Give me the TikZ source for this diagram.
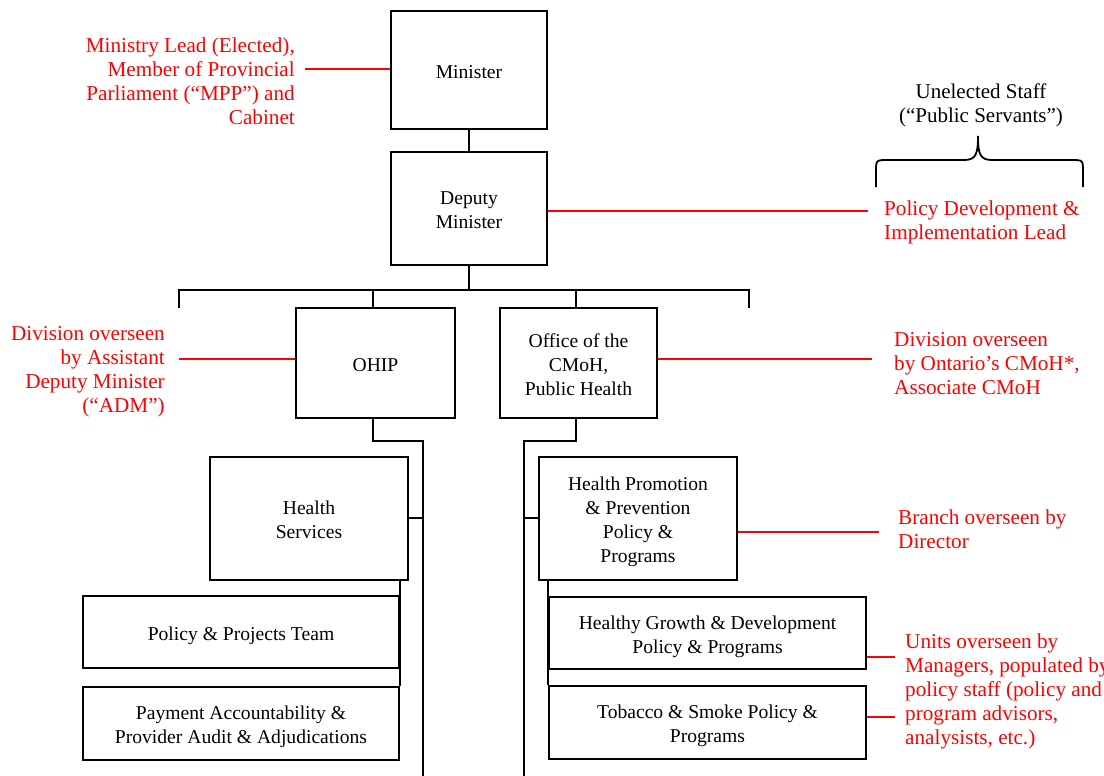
\documentclass[tikz,border=0pt]{standalone}
\usepackage{fontspec}
\setmainfont{Liberation Serif}
\usetikzlibrary{calc}
\newcommand\lft{\rule{0pt}{16pt}}
\begin{document}
\begin{tikzpicture}[x=1pt,y=-1pt,
  box/.style={draw=black,line width=1.8pt,align=center,inner sep=2pt,text depth=0pt,font=\fontsize{19.6}{24}\selectfont},
  conn/.style={draw=black,line width=1.8pt},
  redline/.style={color=red,line width=1.2pt},
  redlbl/.style={text=red,inner sep=0pt,font=\fontsize{21.2}{24}\selectfont},
  blklbl/.style={text=black,inner sep=0pt,font=\fontsize{21}{24}\selectfont},
]
\useasboundingbox (0,0) rectangle (1104,776);
\fill[white] (0,0) rectangle (1104,776);

% boxes
\node[box,minimum width=156pt,minimum height=118pt] (min) at (469,70) {\lft Minister};
\node[box,minimum width=156pt,minimum height=113pt] (dep) at (469,208.5) {\lft Deputy\\Minister};
\node[box,minimum width=159pt,minimum height=110pt] (ohip) at (375.5,363) {\lft OHIP};
\node[box,minimum width=157pt,minimum height=110pt] (cmoh) at (578.5,363) {\lft Office of the\\CMoH,\\Public Health};
\node[box,minimum width=198pt,minimum height=123pt] (hs) at (309,518.5) {\lft Health\\Services};
\node[box,minimum width=198pt,minimum height=123pt] (hpp) at (638,518.5) {\lft Health Promotion\\\& Prevention\\Policy \&\\Programs};
\node[box,minimum width=316pt,minimum height=72pt] (ppt) at (241,632) {\lft Policy \& Projects Team};
\node[box,minimum width=316pt,minimum height=73pt] (pay) at (241,723.5) {\lft Payment Accountability \&\\Provider Audit \& Adjudications};
\node[box,minimum width=317pt,minimum height=72pt] (hgd) at (707.5,633) {\lft Healthy Growth \& Development\\Policy \& Programs};
\node[box,minimum width=317pt,minimum height=73pt] (tob) at (707.5,722.5) {\lft Tobacco \& Smoke Policy \&\\Programs};

% connectors
\draw[conn] (min.south) -- (dep.north);
\coordinate (busL) at (179,290);
\coordinate (busR) at (749,290);
\coordinate (dropL) at (179,308);
\coordinate (dropR) at (749,308);
\draw[conn] (dropL) -- (busL) -- (busR) -- (dropR);
\draw[conn] (dep.south) -- (dep.south |- busL);
\draw[conn] ([xshift=-2.5pt]ohip.north) -- ([xshift=-2.5pt]ohip.north |- busL);
\draw[conn] ([xshift=-2.5pt]cmoh.north) -- ([xshift=-2.5pt]cmoh.north |- busL);

\coordinate (oend) at (423,776);
\draw[conn] ([xshift=-2.5pt]ohip.south) -- ++(0,22) -| (oend);
\draw[conn] ([yshift=0.5pt]hs.east) -- ([yshift=0.5pt]hs.east -| oend);
\draw[conn] (hs.south -| ppt.east) -- (pay.north -| ppt.east);

\coordinate (cend) at (524,776);
\draw[conn] ([xshift=-2.5pt]cmoh.south) -- ++(0,22) -| (cend);
\draw[conn] ([yshift=0.5pt]hpp.west) -- ([yshift=0.5pt]hpp.west -| cend);
\draw[conn] (hpp.south -| hgd.west) -- (tob.north -| hgd.west);

% labels
\node[redlbl,align=right,anchor=north east] (l1) at (295,38) {Ministry Lead (Elected),\\Member of Provincial\\Parliament (“MPP”) and\\Cabinet};
\draw[redline] ([yshift=1pt]min.west) -- ([xshift=10pt,yshift=1pt]min.west -| l1.east);

\node[redlbl,align=right,anchor=north east] (l2) at (165,326) {Division overseen\\by Assistant\\Deputy Minister\\(“ADM”)};
\draw[redline] ([yshift=4pt]ohip.west) -- ([xshift=14pt,yshift=4pt]ohip.west -| l2.east);

\node[redlbl,align=left,anchor=north west] (l3) at (884,201) {Policy Development \&\\Implementation Lead};
\draw[redline] ([yshift=-2.5pt]dep.east) -- ([xshift=-16pt,yshift=-2.5pt]dep.east -| l3.west);

\node[blklbl,align=center,anchor=north] (ul) at (981,84) {Unelected Staff\\(“Public Servants”)};
\draw[line width=1.8pt] (876,187) -- (876,172) .. controls (876,160) .. (888,160) -- (964,160) .. controls (976,160) and (978,154) .. (978,136) .. controls (978,154) and (980,160) .. (992,160) -- (1071,160) .. controls (1083,160) .. (1083,172) -- (1083,187);

\node[redlbl,align=left,anchor=north west] (l4) at (894,332) {Division overseen\\by Ontario’s CMoH*,\\Associate CMoH};
\draw[redline] ([yshift=4pt]cmoh.east) -- ([xshift=-22pt,yshift=4pt]cmoh.east -| l4.west);

\node[redlbl,align=left,anchor=north west] (l5) at (898,510) {Branch overseen by\\Director};
\draw[redline] ([yshift=-13.5pt]hpp.east) -- ([xshift=-19pt,yshift=-13.5pt]hpp.east -| l5.west);

\node[redlbl,align=left,anchor=north west] (l6) at (905,634) {Units overseen by\\Managers, populated by\\policy staff (policy and\\program advisors,\\analysists, etc.)};
\draw[redline] ([yshift=-24pt]hgd.east) -- ([xshift=-10pt,yshift=-24pt]hgd.east -| l6.west);
\draw[redline] ([yshift=5.5pt]tob.east) -- ([xshift=-10pt,yshift=5.5pt]tob.east -| l6.west);
\end{tikzpicture}
\end{document}
